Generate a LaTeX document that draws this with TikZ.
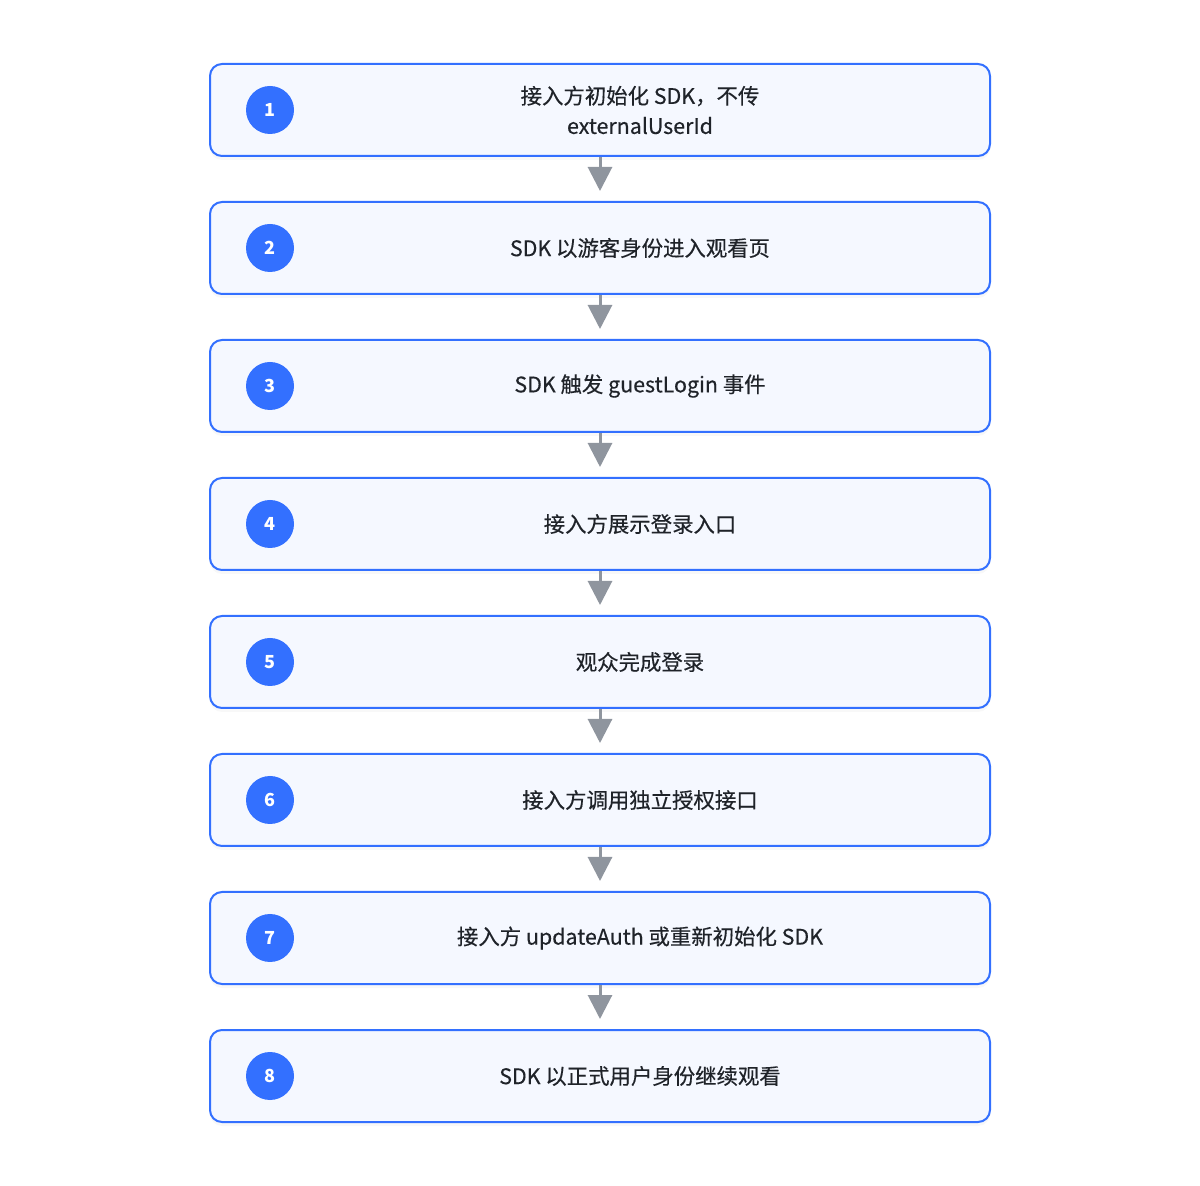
\documentclass[tikz,border=0pt]{standalone}
\usepackage{fontspec}
\setmainfont{Noto Sans CJK SC}
\newfontfamily\stepfont{Noto Sans CJK SC}[FakeBold=0.35]
\usetikzlibrary{arrows.meta,shadows}
\definecolor{stepblue}{HTML}{3370FF}
\definecolor{stepfill}{HTML}{F5F8FF}
\definecolor{arrowgray}{HTML}{8F959E}
\definecolor{textdark}{HTML}{1F2329}
\tikzset{
  stepbox/.style={draw=stepblue, fill=stepfill, line width=1pt, rounded corners=6pt,
    minimum width=390pt, minimum height=46pt,
    drop shadow={opacity=0.06, shadow xshift=0pt, shadow yshift=-2pt}},
  stepnum/.style={circle, fill=stepblue, minimum size=24pt, inner sep=0pt,
    text=white, font=\fontsize{9}{10}\selectfont\bfseries},
  steptext/.style={text=textdark, align=center, font=\stepfont\fontsize{10.7}{15}\selectfont},
  flow/.style={draw=arrowgray, line width=1.5pt, -{Triangle[length=12pt,width=12pt]}, shorten >=5pt}
}
\begin{document}
\begin{tikzpicture}[x=0.5pt,y=-0.5pt]
  \useasboundingbox (0,0) rectangle (1200,1186);
  % steps, top to bottom
  \foreach \i/\txt in {1/{接入方初始化 SDK，不传\\externalUserId},
                       2/{SDK 以游客身份进入观看页},
                       3/{SDK 触发 guestLogin 事件},
                       4/{接入方展示登录入口},
                       5/{观众完成登录},
                       6/{接入方调用独立授权接口},
                       7/{接入方 updateAuth 或重新初始化 SDK},
                       8/{SDK 以正式用户身份继续观看}} {
    \pgfmathsetmacro{\ypos}{110+138*(\i-1)}
    \node[stepbox] (s\i) at (600,\ypos) {};
    \node[stepnum] (n\i) at (270,\ypos) {\i};
    \node[steptext] (t\i) at (640,\ypos) {\txt};
  }
  % connectors
  \foreach \i [evaluate=\i as \j using int(\i+1)] in {1,...,7}
    \draw[flow] (s\i.south) -- (s\j.north);
\end{tikzpicture}
\end{document}
